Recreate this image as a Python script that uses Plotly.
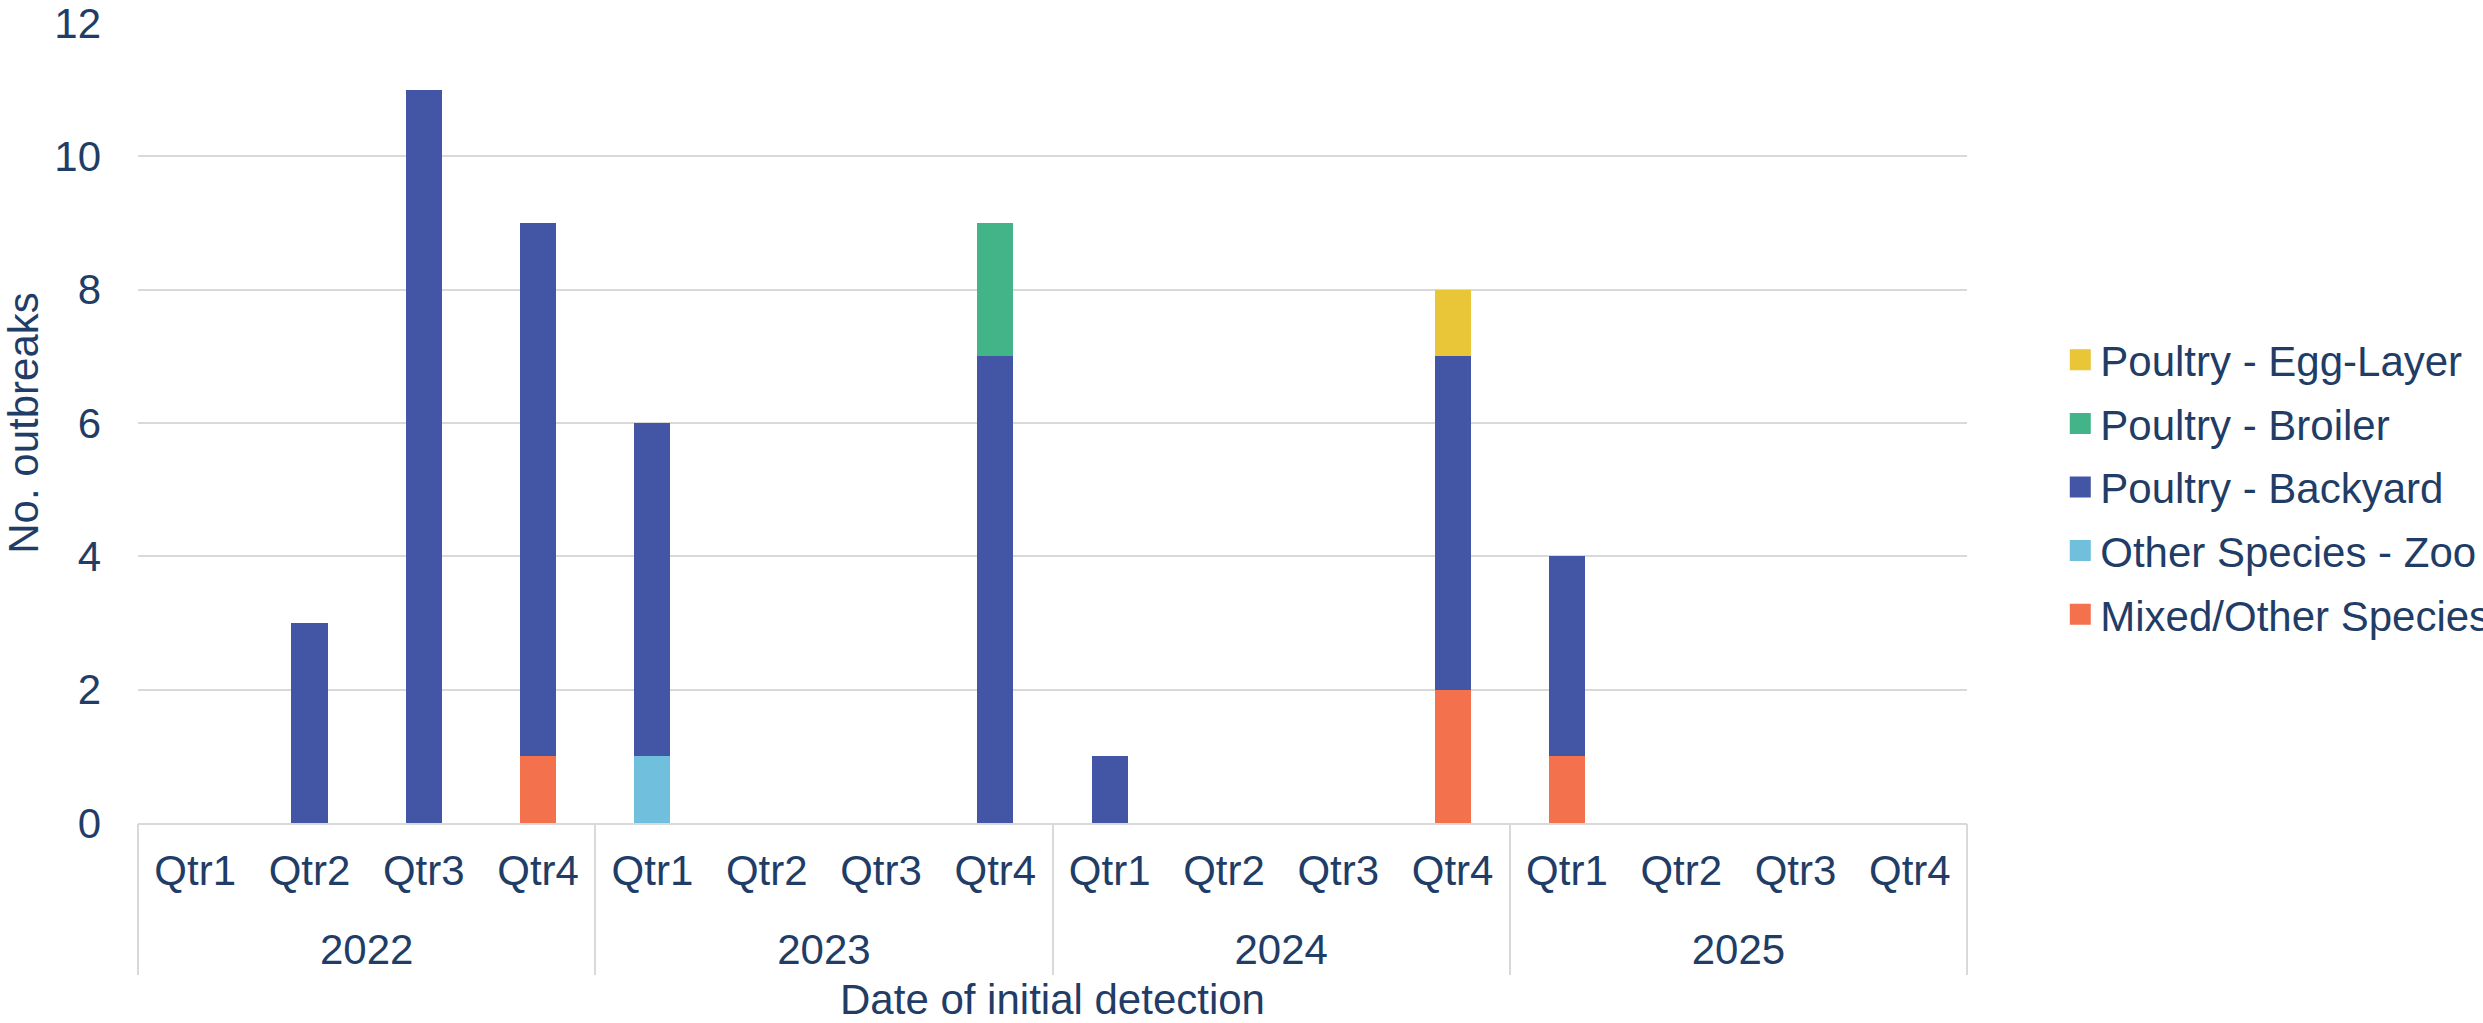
import plotly.graph_objects as go

years = ["2022"] * 4 + ["2023"] * 4 + ["2024"] * 4 + ["2025"] * 4
quarters = ["Qtr1", "Qtr2", "Qtr3", "Qtr4"] * 4

mixed_other = [0, 0, 0, 1, 0, 0, 0, 0, 0, 0, 0, 2, 1, 0, 0, 0]
other_zoo = [0, 0, 0, 0, 1, 0, 0, 0, 0, 0, 0, 0, 0, 0, 0, 0]
backyard = [0, 3, 11, 8, 5, 0, 0, 7, 1, 0, 0, 5, 3, 0, 0, 0]
broiler = [0, 0, 0, 0, 0, 0, 0, 2, 0, 0, 0, 0, 0, 0, 0, 0]
egg_layer = [0, 0, 0, 0, 0, 0, 0, 0, 0, 0, 0, 1, 0, 0, 0, 0]

series = [
    ("Mixed/Other Species", mixed_other, "#F4714E"),
    ("Other Species - Zoo", other_zoo, "#6FBFDD"),
    ("Poultry - Backyard", backyard, "#4355A5"),
    ("Poultry - Broiler", broiler, "#43B388"),
    ("Poultry - Egg-Layer", egg_layer, "#E8C637"),
]

TEXT = "#1F3D66"
FONT = "Liberation Sans, Arial, sans-serif"
GRID = "#D9D9D9"
FS = 42

# positions of each quarter on the category scale
pos = list(range(len(quarters)))
year_names = sorted(set(years))
year_centers = [sum(p for p, y in zip(pos, years) if y == yn) / years.count(yn) for yn in year_names]
year_edges = [min(p for p, y in zip(pos, years) if y == yn) - 0.5 for yn in year_names] + [pos[-1] + 0.5]

fig = go.Figure()
for name, vals, col in series:
    fig.add_trace(go.Bar(
        x=pos, y=vals, name=name,
        marker=dict(color=col, line=dict(width=0)),
        showlegend=False,
    ))
for name, vals, col in reversed(series):
    fig.add_trace(go.Scatter(
        x=[None], y=[None], mode="markers", name=name, legendgroup=name,
        marker=dict(symbol="square", size=16, color=col, line=dict(color=col, width=5)),
        showlegend=True, hoverinfo="skip",
    ))
# invisible helper trace so the year axis is drawn
fig.add_trace(go.Scatter(
    x=year_centers, y=[0] * len(year_centers), xaxis="x2", yaxis="y",
    mode="markers", marker=dict(opacity=0), showlegend=False, hoverinfo="skip",
))

fig.update_layout(
    barmode="stack",
    bargap=0.684,
    width=2483, height=1023,
    margin=dict(l=138, r=516, t=23, b=200, autoexpand=False),
    paper_bgcolor="white", plot_bgcolor="white",
    font=dict(family=FONT, size=FS, color=TEXT),
    legend=dict(
        x=1.051, xanchor="left", y=0.42, yanchor="middle",
        traceorder="grouped", tracegroupgap=6,
        font=dict(size=FS, color=TEXT), bgcolor="rgba(0,0,0,0)",
    ),
    xaxis=dict(
        range=[-0.5, pos[-1] + 0.5],
        tickmode="array", tickvals=pos, ticktext=quarters,
        showline=True, linecolor=GRID, linewidth=2,
        tickfont=dict(size=FS, color=TEXT),
        ticklabelstandoff=10,
        showgrid=False, zeroline=False, ticks="",
    ),
    xaxis2=dict(
        overlaying="x", anchor="y", side="bottom",
        range=[-0.5, pos[-1] + 0.5],
        tickmode="array", tickvals=year_centers, ticktext=year_names,
        tickfont=dict(size=FS, color=TEXT),
        ticklabelstandoff=98,
        showgrid=False, zeroline=False, showline=False, ticks="",
        minor=dict(tickmode="array", tickvals=year_edges, ticks="outside",
                   ticklen=151, tickwidth=2, tickcolor=GRID, showgrid=False),
        title=dict(text="Date of initial detection", font=dict(size=FS, color=TEXT), standoff=14),
    ),
    yaxis=dict(
        range=[0, 12], dtick=2, tick0=0,
        showgrid=True, gridcolor=GRID, gridwidth=2,
        zeroline=False, showline=False, ticks="",
        tickfont=dict(size=FS, color=TEXT),
        ticklabelstandoff=36, ticklabeloverflow="allow",
        title=dict(text="No. outbreaks", font=dict(size=FS, color=TEXT), standoff=10),
    ),
)

fig.write_html("out.html")
